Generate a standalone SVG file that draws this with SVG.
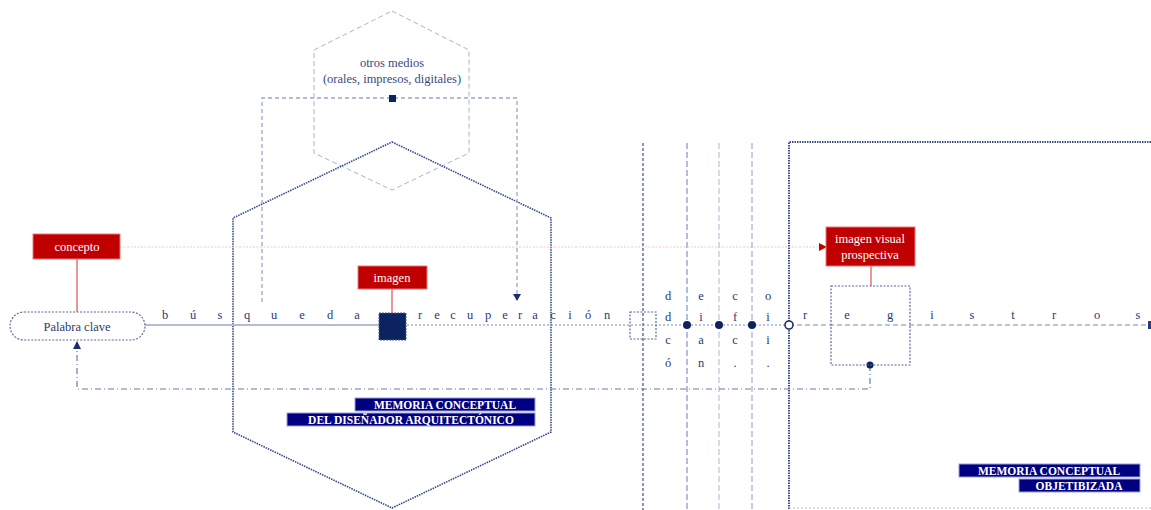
<svg xmlns="http://www.w3.org/2000/svg" width="1151" height="510" viewBox="0 0 1151 510" font-family="'Liberation Serif', 'Times New Roman', serif">
<defs>
<style>
text{font-family:'Liberation Serif','Times New Roman',serif}
.t{fill:#2a3a6e;font-size:12.5px;text-anchor:middle}
.lt{fill:#3a4a80;font-size:12.5px;text-anchor:middle}
.rt{fill:#ffffff;font-size:12.5px;text-anchor:middle}
.mt{fill:#ffffff;font-size:11.5px;font-weight:bold;text-anchor:middle}
.red{fill:#c00000;stroke:#e87878;stroke-width:1}
.navy{fill:#000080;stroke:#9aa0d8;stroke-width:1}
.redline{stroke:#e05050;stroke-width:1.2;fill:none}
</style>
<marker id="arrDown" markerWidth="8" markerHeight="8" refX="4" refY="6" markerUnits="userSpaceOnUse">
<path d="M0,0 L8,0 L4,7 Z" fill="#1f2d6a"/>
</marker>
<marker id="arrUp" markerWidth="8" markerHeight="8" refX="4" refY="1" markerUnits="userSpaceOnUse">
<path d="M0,8 L8,8 L4,0 Z" fill="#1f2d6a"/>
</marker>
<marker id="arrRed" markerWidth="8" markerHeight="8" refX="7" refY="4" markerUnits="userSpaceOnUse">
<path d="M0,0 L8,4 L0,8 Z" fill="#c00000"/>
</marker>
</defs>
<rect width="1151" height="510" fill="#ffffff"/>

<g id="frames">
<polygon points="392,11 469,50 469,153 392,190 314,153 314,50" fill="none" stroke="#aab4d2" stroke-width="1" stroke-dasharray="5 3"/>
<polygon points="392,142 551,218 551,432 392,508 233,432 233,218" fill="none" stroke="#34488a" stroke-width="1.6" stroke-dasharray="1.5 1"/>
<path d="M789,509 L789,142 L1151,142" fill="none" stroke="#3c4f8e" stroke-width="2" stroke-dasharray="1.5 1"/>
<line x1="789" y1="508" x2="1151" y2="508" stroke="#b8c0d8" stroke-width="1" stroke-dasharray="2 2"/>
<line x1="643" y1="143" x2="643" y2="510" stroke="#4a5c98" stroke-width="1.3" stroke-dasharray="3 2"/>
<line x1="687" y1="143" x2="687" y2="510" stroke="#8593bc" stroke-width="1.2" stroke-dasharray="6 3"/>
<line x1="719" y1="143" x2="719" y2="510" stroke="#b9c2da" stroke-width="1.2" stroke-dasharray="6 3"/>
<line x1="752" y1="143" x2="752" y2="510" stroke="#a3aecb" stroke-width="1.2" stroke-dasharray="6 3"/>
</g>

<g id="connectors">
<line x1="120" y1="247" x2="826" y2="247" stroke="#f2b8b8" stroke-width="0.8" stroke-dasharray="2 1.5" marker-end="url(#arrRed)"/>
<path d="M262,302 L262,98 L517,98 L517,300" fill="none" stroke="#9aa6c8" stroke-width="1.3" stroke-dasharray="4 3" marker-end="url(#arrDown)"/>
<line x1="145" y1="325" x2="380" y2="325" stroke="#b3bdd6" stroke-width="2"/>
<line x1="407" y1="325" x2="789" y2="325" stroke="#7c8ab2" stroke-width="1.2" stroke-dasharray="2 2"/>
<line x1="789" y1="325" x2="1150" y2="325" stroke="#7c8ab2" stroke-width="1.2" stroke-dasharray="5 3"/>
<rect x="1148" y="321" width="3" height="8" fill="#2a3a7a"/>
<path d="M870,365 L870,389 L77,389 L77,342" fill="none" stroke="#6c7ba8" stroke-width="1.2" stroke-dasharray="6 3 1 3" marker-end="url(#arrUp)"/>
<line x1="77" y1="259" x2="77" y2="312" class="redline"/>
<line x1="392" y1="289" x2="392" y2="313" class="redline"/>
<line x1="871" y1="266" x2="871" y2="286" class="redline"/>
<circle cx="687" cy="325" r="4" fill="#0f2260"/>
<circle cx="719" cy="325" r="4" fill="#0f2260"/>
<circle cx="752" cy="325" r="4" fill="#0f2260"/>
<circle cx="789" cy="325" r="4" fill="#ffffff" stroke="#1f2d6a" stroke-width="1.6"/>
<circle cx="870" cy="365" r="3.5" fill="#0f2260"/>
<rect x="389" y="95" width="7" height="7" fill="#0f2260"/>
</g>

<g id="otros-medios">
<text class="lt" x="392" y="67">otros medios</text>
<text class="lt" x="392" y="83">(orales, impresos, digitales)</text>
</g>

<g id="concepto">
<rect x="33" y="234" width="87" height="25" class="red"/>
<text class="rt" x="77" y="251">concepto</text>
</g>

<g id="palabra-clave">
<rect x="10" y="312" width="135" height="28" rx="14" ry="14" fill="#ffffff" stroke="#5a6a9c" stroke-width="1.2" stroke-dasharray="2 1.5"/>
<text class="t" x="77" y="331" font-size="13">Palabra clave</text>
</g>

<g id="imagen">
<rect x="358" y="266" width="69" height="23" class="red"/>
<text class="rt" x="392" y="282">imagen</text>
<rect x="379" y="313" width="27" height="27" fill="#0b2460" stroke="#4a5a90" stroke-width="1" stroke-dasharray="2 1"/>
</g>

<g id="busqueda">
<text class="t" x="165" y="319">b</text>
<text class="t" x="193" y="319">ú</text>
<text class="t" x="220" y="319">s</text>
<text class="t" x="247" y="319">q</text>
<text class="t" x="274" y="319">u</text>
<text class="t" x="302" y="319">e</text>
<text class="t" x="330" y="319">d</text>
<text class="t" x="357" y="319">a</text>
</g>

<g id="recuperacion">
<text class="t" x="420" y="319">r</text>
<text class="t" x="437" y="319">e</text>
<text class="t" x="453" y="319">c</text>
<text class="t" x="470" y="319">u</text>
<text class="t" x="488" y="319">p</text>
<text class="t" x="505" y="319">e</text>
<text class="t" x="520" y="319">r</text>
<text class="t" x="535" y="319">a</text>
<text class="t" x="553" y="319">c</text>
<text class="t" x="570" y="319">i</text>
<text class="t" x="588" y="319">ó</text>
<text class="t" x="607" y="319">n</text>
</g>

<g id="decodificacion">
<rect x="630" y="312" width="26" height="27" fill="none" stroke="#5a6a9c" stroke-width="1.2" stroke-dasharray="2 1.5"/>
<text class="t" x="668" y="300">d</text>
<text class="t" x="701" y="300">e</text>
<text class="t" x="735" y="300">c</text>
<text class="t" x="768" y="300">o</text>
<text class="t" x="668" y="321">d</text>
<text class="t" x="701" y="321">i</text>
<text class="t" x="735" y="321">f</text>
<text class="t" x="768" y="321">i</text>
<text class="t" x="668" y="344">c</text>
<text class="t" x="701" y="344">a</text>
<text class="t" x="735" y="344">c</text>
<text class="t" x="768" y="344">i</text>
<text class="t" x="668" y="367">ó</text>
<text class="t" x="701" y="367">n</text>
<text class="t" x="735" y="367">.</text>
<text class="t" x="768" y="367">.</text>
</g>

<g id="registros">
<text class="t" x="805" y="319">r</text>
<text class="t" x="847" y="319">e</text>
<text class="t" x="890" y="319">g</text>
<text class="t" x="932" y="319">i</text>
<text class="t" x="972" y="319">s</text>
<text class="t" x="1013" y="319">t</text>
<text class="t" x="1054" y="319">r</text>
<text class="t" x="1097" y="319">o</text>
<text class="t" x="1138" y="319">s</text>
</g>

<g id="imagen-visual">
<rect x="826" y="227" width="89" height="39" class="red"/>
<text class="rt" x="870" y="243">imagen visual</text>
<text class="rt" x="870" y="259">prospectiva</text>
<rect x="831" y="286" width="79" height="79" fill="none" stroke="#5a6a9c" stroke-width="1.2" stroke-dasharray="2 1.5"/>
</g>

<g id="memoria-disenador">
<rect x="355" y="398" width="180" height="13" class="navy"/>
<text class="mt" x="445" y="409">MEMORIA CONCEPTUAL</text>
<rect x="287" y="413" width="248" height="13" class="navy"/>
<text class="mt" x="411" y="424">DEL DISEÑADOR ARQUITECTÓNICO</text>
</g>

<g id="memoria-objetibizada">
<rect x="959" y="464" width="181" height="13" class="navy"/>
<text class="mt" x="1049" y="475">MEMORIA CONCEPTUAL</text>
<rect x="1019" y="479" width="121" height="13" class="navy"/>
<text class="mt" x="1079" y="490">OBJETIBIZADA</text>
</g>
</svg>
